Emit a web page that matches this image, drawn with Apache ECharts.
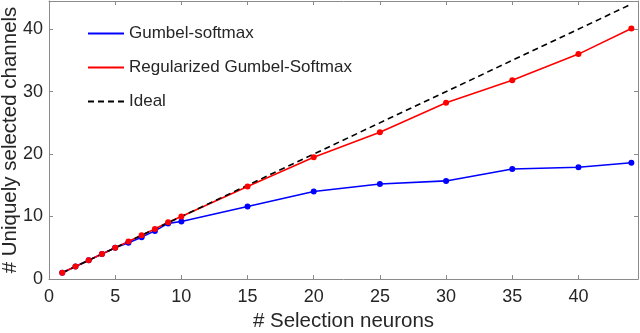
<!DOCTYPE html>
<html>
<head>
<meta charset="utf-8">
<script src="https://cdn.jsdelivr.net/npm/echarts@6/dist/echarts.min.js"></script>
<style>
  html, body { margin: 0; padding: 0; background: #fff; }
  #chart { width: 640px; height: 333px; }
</style>
</head>
<body>
<div id="chart"></div>
<script>
// data
var neurons = [1, 2, 3, 4, 5, 6, 7, 8, 9, 10, 15, 20, 25, 30, 35, 40, 44];
var gumbel = [1, 2, 3, 4, 5, 5.8, 6.7, 7.7, 8.9, 9.2, 11.6, 14.0, 15.2, 15.7, 17.6, 17.9, 18.6];
var regularized = [1, 2, 3, 4, 5, 6, 7, 8, 9.1, 10, 14.8, 19.5, 23.5, 28.2, 31.8, 36.0, 40.1];
var ideal = [1, 44];
var idealX = [1, 44];

function pairs(xs, ys) {
    return xs.map(function (x, i) { return [x, ys[i]]; });
}

var font = '"Liberation Sans", Arial, sans-serif';
var textColor = '#262626';
var axisColor = '#8a8a8a';

var chart = echarts.init(document.getElementById('chart'));

function xAxisDef(pos, labels) {
    return {
        type: 'value', position: pos, min: 0, max: 44.5, interval: 5,
        name: labels ? '# Selection neurons' : '',
        nameLocation: 'middle', nameGap: 32, nameMoveOverlap: false,
        nameTextStyle: { fontFamily: font, fontSize: 20.5, color: textColor },
        axisLine: { show: true, onZero: false, lineStyle: { color: axisColor, width: 1 } },
        axisTick: { show: true, inside: true, length: 4, lineStyle: { color: axisColor } },
        axisLabel: {
            show: labels, margin: 9, showMaxLabel: false,
            fontFamily: font, fontSize: 18, color: textColor
        },
        splitLine: { show: false }
    };
}

function yAxisDef(pos, labels) {
    return {
        type: 'value', position: pos, min: 0, max: 44.5, interval: 10,
        name: labels ? '# Uniquely selected channels' : '',
        nameLocation: 'middle', nameGap: 28, nameMoveOverlap: false,
        nameTextStyle: { fontFamily: font, fontSize: 20.5, color: textColor },
        axisLine: { show: true, onZero: false, lineStyle: { color: axisColor, width: 1 } },
        axisTick: { show: true, inside: true, length: 4, lineStyle: { color: axisColor } },
        axisLabel: {
            show: labels, margin: 6, showMaxLabel: false,
            fontFamily: font, fontSize: 18, color: textColor
        },
        splitLine: { show: false }
    };
}

chart.setOption({
    animation: false,
    grid: { left: 49, right: 2, top: 1, bottom: 54, outerBoundsMode: 'none' },
    legend: {
        orient: 'vertical', left: 82, top: 20,
        itemWidth: 36, itemHeight: 18, itemGap: 17,
        textStyle: { fontFamily: font, fontSize: 17, color: textColor },
        itemStyle: { opacity: 0 },
        data: ['Gumbel-softmax', 'Regularized Gumbel-Softmax', 'Ideal']
    },
    xAxis: [xAxisDef('bottom', true), xAxisDef('top', false)],
    yAxis: [yAxisDef('left', true), yAxisDef('right', false)],
    series: [
        {
            name: 'Gumbel-softmax', type: 'line',
            data: pairs(neurons, gumbel),
            symbol: 'circle', symbolSize: 6,
            itemStyle: { color: '#0000ff' },
            lineStyle: { color: '#0000ff', width: 1.6 }
        },
        {
            name: 'Regularized Gumbel-Softmax', type: 'line',
            data: pairs(neurons, regularized),
            symbol: 'circle', symbolSize: 6,
            itemStyle: { color: '#ff0000' },
            lineStyle: { color: '#ff0000', width: 1.6 }
        },
        {
            name: 'Ideal', type: 'line',
            data: pairs(idealX, ideal),
            symbol: 'none',
            itemStyle: { color: '#000' },
            lineStyle: { color: '#000', width: 1.6, type: [6, 4] }
        }
    ]
});
</script>
</body>
</html>
